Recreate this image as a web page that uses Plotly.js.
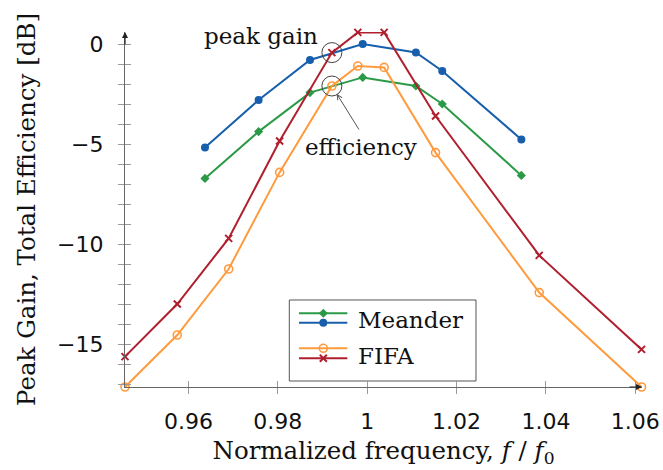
<!DOCTYPE html>
<html>
<head>
<meta charset="utf-8">
<script src="https://cdn.plot.ly/plotly-3.0.1.min.js"></script>
<style>
  html, body { margin: 0; padding: 0; background: #fff; }
  #chart { width: 663px; height: 470px; }
</style>
</head>
<body>
<div id="chart"></div>
<script>
// FIFA antenna: gain and efficiency share the same frequency points
const fifaFreq = [0.9458, 0.9575, 0.9690, 0.9804, 0.9921, 0.9979, 1.0038, 1.0153, 1.0385, 1.0614];
const fifaGain = [-15.63, -13.0, -9.72, -4.85, -0.43, 0.58, 0.58, -3.6, -10.57, -15.27];
const fifaEff  = [-17.15, -14.55, -11.25, -6.42, -2.1, -1.1, -1.17, -5.43, -12.43, -17.15];

// Meander antenna
const meanderFreq = [0.9637, 0.9757, 0.9872, 0.9990, 1.0109, 1.0168, 1.0345];
const meanderGain = [-5.17, -2.8, -0.8, 0.0, -0.42, -1.35, -4.77];
const meanderEff  = [-6.72, -4.38, -2.43, -1.67, -2.1, -3.0, -6.57];

const xTickVals = [0.96, 0.98, 1.00, 1.02, 1.04, 1.06];
const xTickText = ['0.96', '0.98', '1', '1.02', '1.04', '1.06'];
const yTickVals = [-15, -10, -5, 0];
const yTickText = ['\u221215', '\u221210', '\u22125', '0'];
const legendNames = ['Meander', 'FIFA'];
const noteNames = ['peak gain', 'efficiency'];

const C = { green: '#2b9a47', blue: '#175fad', orange: '#ff9a3d', red: '#b01f2e' };
const serif = 'DejaVu Serif, serif';
const sans = 'DejaVu Sans, sans-serif';
const xRange = [0.9458, 1.0615];
const yRange = [-17.15, 0.6];
const axisGrey = '#666', tickGrey = '#999', ink = '#111';

const styles = {
  meanderEff:  { color: C.green,  marker: { symbol: 'diamond', size: 7, color: C.green } },
  meanderGain: { color: C.blue,   marker: { symbol: 'circle', size: 8, color: C.blue } },
  fifaEff:     { color: C.orange, marker: { symbol: 'circle-open', size: 8, color: C.orange, line: { color: C.orange, width: 1.6 } } },
  fifaGain:    { color: C.red,    marker: { symbol: 'x-thin-open', size: 7, color: C.red, line: { color: C.red, width: 2 } } }
};

function series(x, y, st) {
  return { x: x, y: y, type: 'scatter', mode: 'lines+markers', showlegend: false, cliponaxis: false,
           line: { color: st.color, width: 2 }, marker: st.marker, hoverinfo: 'skip' };
}

const traces = [
  // empty trace so the tick-only axes are instantiated
  { x: [], y: [], xaxis: 'x2', yaxis: 'y2', type: 'scatter', mode: 'markers', showlegend: false, hoverinfo: 'skip' },
  series(meanderFreq, meanderEff, styles.meanderEff),
  series(meanderFreq, meanderGain, styles.meanderGain),
  series(fifaFreq, fifaEff, styles.fifaEff),
  series(fifaFreq, fifaGain, styles.fifaGain)
];

// Hand-built legend: each entry shows two line samples (efficiency above gain)
const legX = [0.3366, 0.4300], legMid = 0.3836;
const legRows = [
  { y: 0.2076, st: styles.meanderEff }, { y: 0.1811, st: styles.meanderGain },
  { y: 0.1090, st: styles.fifaEff },    { y: 0.0808, st: styles.fifaGain }
];
legRows.forEach(r => {
  traces.push({ x: legX, y: [r.y, r.y], xaxis: 'x3', yaxis: 'y3', type: 'scatter', mode: 'lines',
                line: { color: r.st.color, width: 2 }, showlegend: false, hoverinfo: 'skip', cliponaxis: false });
  traces.push({ x: [legMid], y: [r.y], xaxis: 'x3', yaxis: 'y3', type: 'scatter', mode: 'markers',
                marker: r.st.marker, showlegend: false, hoverinfo: 'skip', cliponaxis: false });
});

const i = 4; // frequency index of the marked points
const shapes = [
  { type: 'rect', xref: 'paper', yref: 'paper', x0: 0.3178, x1: 0.6789, y0: 0.0169, y1: 0.2451,
    line: { color: '#555', width: 1 }, fillcolor: '#fff', layer: 'below' },
  { type: 'circle', xref: 'x', yref: 'y', xsizemode: 'pixel', ysizemode: 'pixel',
    xanchor: fifaFreq[i], yanchor: fifaGain[i], x0: -10, x1: 10, y0: -10, y1: 10,
    line: { color: '#444', width: 1 } },
  { type: 'circle', xref: 'x', yref: 'y', xsizemode: 'pixel', ysizemode: 'pixel',
    xanchor: fifaFreq[i], yanchor: fifaEff[i], x0: -10, x1: 10, y0: -10, y1: 10,
    line: { color: '#444', width: 1 } }
];

const annotations = [
  // axis arrows
  { xref: 'paper', yref: 'paper', x: 1, y: 0, ax: -14, ay: 0, text: '', showarrow: true,
    arrowhead: 2, arrowsize: 1, arrowwidth: 1.2, arrowcolor: '#222' },
  { xref: 'paper', yref: 'paper', x: 0, y: 1, ax: 0, ay: 14, text: '', showarrow: true,
    arrowhead: 2, arrowsize: 1, arrowwidth: 1.2, arrowcolor: '#222' },
  // notes
  { xref: 'x', yref: 'y', x: fifaFreq[i], y: fifaGain[i], xshift: -71, yshift: 17, text: noteNames[0],
    showarrow: false, font: { family: serif, size: 23, color: ink } },
  { xref: 'x', yref: 'y', x: fifaFreq[i], y: fifaEff[i], xshift: 29, yshift: -61, text: noteNames[1],
    showarrow: false, font: { family: serif, size: 23, color: ink } },
  { xref: 'x', yref: 'y', x: fifaFreq[i], y: fifaEff[i], ax: 28, ay: 45, text: '', showarrow: true,
    standoff: 9, arrowhead: 5, arrowsize: 1, arrowwidth: 1, arrowcolor: '#555' },
  // legend labels
  { xref: 'paper', yref: 'paper', x: 0.4468, y: 0.190, xanchor: 'left', yanchor: 'middle',
    text: legendNames[0], showarrow: false, font: { family: serif, size: 23, color: ink } },
  { xref: 'paper', yref: 'paper', x: 0.4468, y: 0.0887, xanchor: 'left', yanchor: 'middle',
    text: legendNames[1], showarrow: false, font: { family: serif, size: 23, color: ink } }
];

const layout = {
  width: 663, height: 470,
  margin: { l: 125, r: 21, t: 32, b: 83 },
  paper_bgcolor: '#fff', plot_bgcolor: '#fff',
  showlegend: false,
  xaxis: {
    range: xRange, showline: true, linecolor: axisGrey, linewidth: 1.2,
    ticks: 'outside', ticklen: 6, tickcolor: tickGrey, tickwidth: 1,
    tickvals: xTickVals, ticktext: xTickText, ticklabelstandoff: 8,
    tickfont: { family: sans, size: 22, color: ink },
    showgrid: false, zeroline: false,
    title: { text: 'Normalized frequency, <i>f</i> / <i>f</i><sub>0</sub>', font: { family: serif, size: 24.5, color: ink }, standoff: 9 }
  },
  yaxis: {
    range: yRange, showline: true, linecolor: axisGrey, linewidth: 1.2,
    ticks: 'outside', ticklen: 6, tickcolor: tickGrey, tickwidth: 1,
    tickvals: yTickVals, ticktext: yTickText, ticklabelstandoff: 10,
    minor: { dtick: 1, tick0: 0, ticks: 'outside', ticklen: 6, tickcolor: tickGrey, tickwidth: 1 },
    tickfont: { family: sans, size: 22, color: ink },
    showgrid: false, zeroline: false,
    title: { text: 'Peak Gain, Total Efficiency [dB]', font: { family: serif, size: 24.5, color: ink }, standoff: 14 }
  },
  // inner halves of the tick marks
  xaxis2: { overlaying: 'x', anchor: 'y', side: 'bottom', range: xRange, tickvals: xTickVals,
            ticks: 'inside', ticklen: 6, tickcolor: tickGrey, tickwidth: 1,
            showticklabels: false, showline: false, showgrid: false, zeroline: false },
  yaxis2: { overlaying: 'y', anchor: 'x', side: 'left', range: yRange, tickvals: yTickVals,
            ticks: 'inside', ticklen: 6, tickcolor: tickGrey, tickwidth: 1,
            minor: { dtick: 1, tick0: 0, ticks: 'inside', ticklen: 6, tickcolor: tickGrey, tickwidth: 1 },
            showticklabels: false, showline: false, showgrid: false, zeroline: false },
  // unit square over the plot area for the legend samples
  xaxis3: { overlaying: 'x', anchor: 'y3', range: [0, 1], visible: false },
  yaxis3: { overlaying: 'y', anchor: 'x3', range: [0, 1], visible: false },
  shapes: shapes,
  annotations: annotations
};

Plotly.newPlot('chart', traces, layout, { displayModeBar: false, staticPlot: true });
</script>
</body>
</html>
